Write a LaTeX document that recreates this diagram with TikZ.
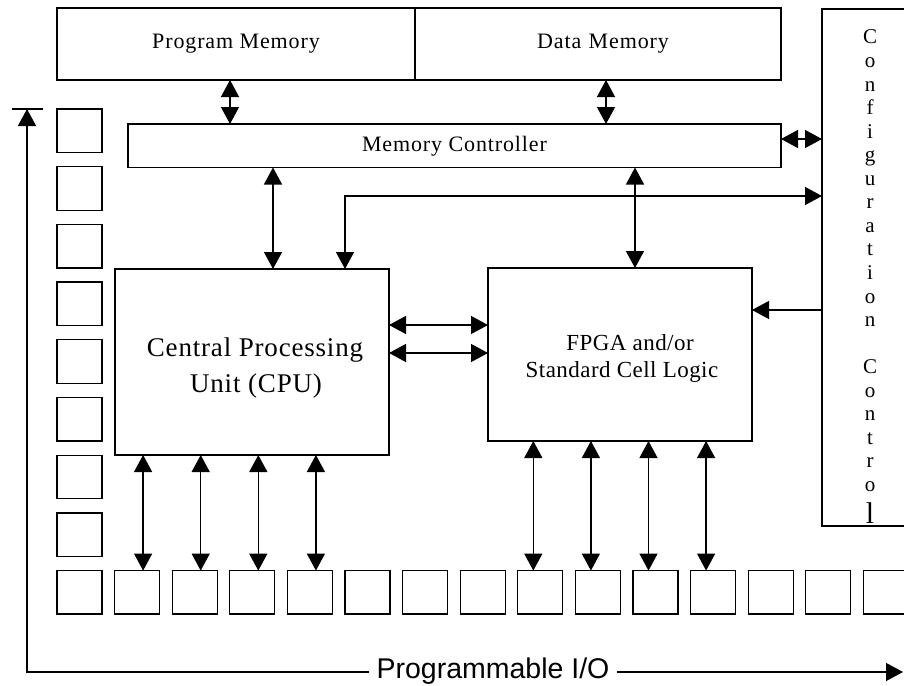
\documentclass[tikz,border=0pt]{standalone}
\usepackage{fontspec}
\setmainfont{Liberation Serif}
\newfontfamily\labelserif[LetterSpace=4]{Liberation Serif}
\newfontfamily\cpuserif[LetterSpace=3]{Liberation Serif}
\newfontfamily\fpgaserif[LetterSpace=2]{Liberation Serif}
\newfontfamily\axisfont{Liberation Sans}
\usetikzlibrary{arrows.meta}

\begin{document}
\begin{tikzpicture}[x=1pt, y=-1pt, line width=1.3pt,
  >={Triangle[length=17pt,width=18pt]},
  box/.style={draw, line width=1.3pt, inner sep=0pt, outer sep=0pt, anchor=north west},
  iobox/.style={box, minimum width=45pt, minimum height=43.5pt},
  memlabel/.style={font=\labelserif\fontsize{22}{25}\selectfont},
  cpulabel/.style={font=\cpuserif\fontsize{27}{30}\selectfont, anchor=base, inner sep=0pt},
  fpgalabel/.style={font=\fpgaserif\fontsize{23}{26}\selectfont, anchor=base, inner sep=0pt},
  cfgletter/.style={font=\fontsize{21}{23}\selectfont, anchor=base, inner sep=0pt},
  axislabel/.style={font=\axisfont\fontsize{28.5}{32}\selectfont, anchor=base, inner sep=7pt}]
\useasboundingbox (0,0) rectangle (904,685);

% memory blocks and the configuration column
\node[box, memlabel, minimum width=358pt, minimum height=72pt] (pm) at (57,8) {Program Memory};
\node[box, memlabel, minimum width=366pt, minimum height=72pt, text width=366pt, align=center] (dm) at (415,8) {\hspace*{10pt}Data Memory};
\node[box, memlabel, minimum width=653pt, minimum height=43.5pt] (mc) at (128,124) {Memory Controller};
\node[box, minimum width=110pt, minimum height=517pt] (cfg) at (822,9) {};

% processing blocks
\node[box, minimum width=274pt, minimum height=186pt] (cpu) at (115,269) {};
\node[box, minimum width=264pt, minimum height=173pt] (fpga) at (488,268) {};
\node[cpulabel, xshift=3pt, yshift=-87pt] (cpuL1) at (cpu.north) {Central Processing};
\node[cpulabel, xshift=4pt, yshift=-123pt] (cpuL2) at (cpu.north) {Unit (CPU)};
\node[fpgalabel, xshift=10pt, yshift=-82pt] (fpgaL1) at (fpga.north) {FPGA and/or};
\node[fpgalabel, xshift=2pt, yshift=-109pt] (fpgaL2) at (fpga.north) {Standard Cell Logic};

% vertical text of the configuration control
\foreach \ch/\n in {C/0,o/1,n/2,f/3,i/4,g/5,u/6,r/7,a/8,t/9,i/10,o/11,n/12,C/14,o/15,n/16,t/17,r/18,o/19}
  \node[cfgletter] (cfgL\n) at (870,{44+23.55*\n}) {\ch};
\node[cfgletter, font=\fontsize{30}{32}\selectfont] (cfgL20) at (870,523) {l};

% I/O pads
\foreach \k in {0,...,7} \node[iobox] (L\k) at (57,{109+57.7*\k}) {};
\foreach \i in {0,...,14} \node[iobox] (B\i) at ({57+57.6*\i},570.6) {};

% memory buses
\path (pm.south) ++(-6,0) coordinate (pmPort);
\draw[<->] (pmPort) -- (pmPort |- mc.north);
\path (dm.south) ++(8,0) coordinate (dmPort);
\draw[<->] (dmPort) -- (dmPort |- mc.north);
\path (cpu.north) ++(21,0) coordinate (cpuBus);
\draw[<->] (cpuBus |- mc.south) -- (cpuBus);
\path (fpga.north) ++(15,0) coordinate (fpgaBus);
\draw[<->] (fpgaBus |- mc.south) -- (fpgaBus);

% configuration links
\path (cpu.north) ++(93,0) coordinate (cpuCfg);
\path (cfg.north west) ++(0,187) coordinate (cfgCpu);
\draw[<->] (cpuCfg) |- (cfgCpu);
\path (cfg.north west) ++(0,130) coordinate (cfgMc);
\draw[<->] (cfgMc -| mc.east) -- (cfgMc);
\path (cfg.north west) ++(0,301) coordinate (cfgFpga);
\draw[->] (cfgFpga) -- (cfgFpga -| fpga.east);

% CPU <-> FPGA
\path (cpu.north east) ++(0,56) coordinate (linkA);
\path (cpu.north east) ++(0,84) coordinate (linkB);
\draw[<->] (linkA) -- (linkA -| fpga.west);
\draw[<->] (linkB) -- (linkB -| fpga.west);

% pad connections
\foreach \i in {1,...,4} {
  \path (B\i.north) ++(6,0) coordinate (cpuPin\i);
  \draw[<->] (cpuPin\i |- cpu.south) -- (cpuPin\i);
}
\foreach \i in {8,...,11} {
  \path (B\i.north) ++(-7,0) coordinate (fpgaPin\i);
  \draw[<->] (fpgaPin\i |- fpga.south) -- (fpgaPin\i);
}

% programmable I/O axis
\node[axislabel] (pio) at (493,678.5) {Programmable I/O};
\coordinate (axTop) at (27,109);
\coordinate (axCorner) at (27,672);
\coordinate (axEnd) at (903,672);
\draw[->] (axCorner -| pio.west) -- (axCorner) -- (axTop);
\draw[->] (axCorner -| pio.east) -- (axEnd);
\draw ([xshift=-15pt]axTop) -- ([xshift=16pt]axTop);
\end{tikzpicture}
\end{document}
